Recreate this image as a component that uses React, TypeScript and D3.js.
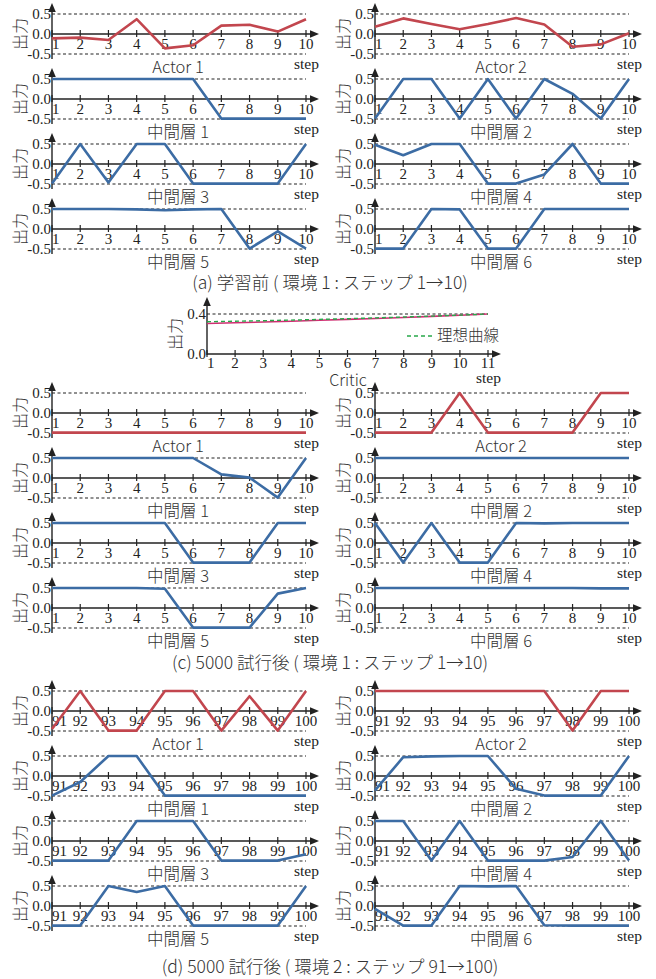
import React from "react";
import * as d3 from "d3";

// ---- data ----
const stepsEnv1 = [1, 2, 3, 4, 5, 6, 7, 8, 9, 10];
const stepsEnv2 = [91, 92, 93, 94, 95, 96, 97, 98, 99, 100];
const criticSteps = [1, 2, 3, 4, 5, 6, 7, 8, 9, 10, 11];
const outputTicks = [0.5, 0.0, -0.5];
const criticTicks = [0.4, 0.0];
const panelTitles = ["Actor 1", "Actor 2", "中間層 1", "中間層 2", "中間層 3", "中間層 4", "中間層 5", "中間層 6"];

// (a) before learning, environment 1
const preActor1 = [-0.11, -0.09, -0.15, 0.37, -0.36, -0.28, 0.21, 0.23, 0.06, 0.37];
const preActor2 = [0.18, 0.39, 0.25, 0.12, 0.25, 0.4, 0.24, -0.32, -0.26, 0.02];
const preMid1 = [0.5, 0.5, 0.5, 0.5, 0.5, 0.5, -0.49, -0.49, -0.49, -0.49];
const preMid2 = [-0.49, 0.5, 0.5, -0.49, 0.5, -0.49, 0.5, 0.13, -0.49, 0.5];
const preMid3 = [-0.49, 0.5, -0.46, 0.5, 0.5, -0.49, -0.49, -0.49, -0.49, 0.5];
const preMid4 = [0.48, 0.22, 0.5, 0.5, -0.49, -0.49, -0.26, 0.5, -0.49, -0.49];
const preMid5 = [0.5, 0.5, 0.5, 0.49, 0.47, 0.49, 0.5, -0.49, -0.06, -0.49];
const preMid6 = [-0.49, -0.49, 0.5, 0.49, -0.49, -0.49, 0.5, 0.5, 0.5, 0.5];

// critic output and ideal curve
const criticOutput = [0.305, 0.312, 0.32, 0.328, 0.337, 0.346, 0.355, 0.365, 0.376, 0.388, 0.4];
const criticIdeal = [0.323, 0.328, 0.333, 0.339, 0.346, 0.353, 0.361, 0.37, 0.379, 0.389, 0.4];

// (c) after 5000 trials, environment 1
const c5kActor1 = [-0.49, -0.49, -0.49, -0.49, -0.49, -0.49, -0.49, -0.49, -0.49, -0.49];
const c5kActor2 = [-0.49, -0.49, -0.49, 0.5, -0.49, -0.49, -0.49, -0.49, 0.5, 0.5];
const c5kMid1 = [0.5, 0.5, 0.5, 0.5, 0.5, 0.5, 0.09, 0.01, -0.49, 0.5];
const c5kMid2 = [0.5, 0.5, 0.5, 0.5, 0.5, 0.5, 0.5, 0.5, 0.5, 0.5];
const c5kMid3 = [0.5, 0.5, 0.5, 0.5, 0.5, -0.49, -0.49, -0.49, 0.5, 0.5];
const c5kMid4 = [0.5, -0.49, 0.5, -0.49, -0.49, 0.5, 0.49, 0.5, 0.5, 0.5];
const c5kMid5 = [0.5, 0.5, 0.5, 0.5, 0.48, -0.49, -0.49, -0.49, 0.36, 0.5];
const c5kMid6 = [0.5, 0.5, 0.5, 0.5, 0.5, 0.5, 0.5, 0.5, 0.49, 0.49];

// (d) after 5000 trials, environment 2
const d5kActor1 = [-0.45, 0.5, -0.49, -0.49, 0.5, 0.5, -0.49, 0.37, -0.49, 0.5];
const d5kActor2 = [0.5, 0.5, 0.5, 0.5, 0.5, 0.5, 0.5, -0.49, 0.5, 0.5];
const d5kMid1 = [-0.49, -0.15, 0.5, 0.5, -0.49, -0.49, -0.49, -0.49, -0.49, -0.49];
const d5kMid2 = [-0.36, 0.47, 0.49, 0.5, 0.5, -0.32, -0.49, -0.49, -0.49, 0.5];
const d5kMid3 = [-0.49, -0.49, -0.49, 0.5, 0.5, 0.5, -0.49, -0.49, -0.49, -0.33];
const d5kMid4 = [0.5, 0.5, -0.49, 0.5, -0.49, -0.49, -0.49, -0.4, 0.5, -0.49];
const d5kMid5 = [-0.49, -0.49, 0.5, 0.35, 0.5, -0.49, -0.49, -0.49, -0.49, 0.5];
const d5kMid6 = [-0.07, -0.49, -0.49, 0.5, 0.49, 0.5, -0.48, -0.49, -0.49, -0.49];

const captions = [
  "(a) 学習前 ( 環境 1 : ステップ 1→10)",
  "(c) 5000 試行後 ( 環境 1 : ステップ 1→10)",
  "(d) 5000 試行後 ( 環境 2 : ステップ 91→100)",
];

// ---- styling ----
const RED = "#c2464e";
const BLUE = "#3c6ca4";
const PINK = "#cf2f72";
const GREEN = "#27a84a";
const INK = "#222";
const serifStyle = { fontFamily: '"Liberation Serif", "Times New Roman", serif' };
const sansStyle = { fontFamily: '"Noto Sans CJK JP", "Noto Sans", sans-serif', fontWeight: 300 };

const COL_AXIS = [52, 375];
const SPAN = 254;

type PanelProps = { ax: number; y0: number; steps: number[]; values: number[]; color: string; title: string };

function Panel({ ax, y0, steps, values, color, title }: PanelProps) {
  const x = d3.scaleLinear().domain([steps[0], steps[steps.length - 1]]).range([ax, ax + SPAN]);
  const y = d3.scaleLinear().domain([-0.5, 0.5]).range([y0 + 20, y0 - 20]);
  const path = d3
    .line<number>()
    .x((_, i) => x(steps[i]))
    .y((d) => y(d))(values) as string;
  const xTip = ax + 267;
  const yTip = y0 - 31;
  return (
    <g>
      {[0.5, -0.5].map((v) => (
        <line key={v} x1={ax} x2={ax + SPAN} y1={y(v)} y2={y(v)} stroke={INK} strokeWidth={1} strokeDasharray="3,2.5" />
      ))}
      {/* axes */}
      <line x1={ax} x2={xTip - 6} y1={y0} y2={y0} stroke={INK} strokeWidth={1.4} />
      <polygon points={`${xTip},${y0} ${xTip - 9},${y0 - 3.8} ${xTip - 9},${y0 + 3.8}`} fill={INK} />
      <line x1={ax} x2={ax} y1={y0 + 25} y2={yTip + 6} stroke={INK} strokeWidth={1.4} />
      <polygon points={`${ax},${yTip} ${ax - 3.8},${yTip + 9} ${ax + 3.8},${yTip + 9}`} fill={INK} />
      {steps.map((s) => (
        <line key={s} x1={x(s)} x2={x(s)} y1={y0 - 4} y2={y0 + 3} stroke={INK} strokeWidth={1.2} />
      ))}
      {steps.map((s, i) => (
        <text
          key={"t" + s}
          x={x(s)}
          y={y0 + 14.5}
          style={serifStyle}
          fontSize={15}
          fill={INK}
          textAnchor={i === 0 ? "start" : "middle"}
        >
          {s}
        </text>
      ))}
      {outputTicks.map((v) => (
        <text key={"y" + v} x={ax - 1} y={y(v) + 5} style={serifStyle} fontSize={15} fill={INK} textAnchor="end">
          {v.toFixed(1)}
        </text>
      ))}
      <text
        transform={`translate(${ax - 26},${y0}) rotate(-90)`}
        textAnchor="middle"
        style={sansStyle}
        fontSize={16}
        fill="#333"
      >
        出力
      </text>
      <path d={path} fill="none" stroke={color} strokeWidth={2.6} strokeLinejoin="round" />
      <text x={ax + 126} y={y0 + 38.5} textAnchor="middle" style={sansStyle} fontSize={16.5} fill="#333">
        {title}
      </text>
      <text x={ax + 267} y={y0 + 35} textAnchor="end" style={serifStyle} fontSize={15.5} fill={INK}>
        step
      </text>
    </g>
  );
}

function CriticPanel() {
  const ax = 207;
  const y0 = 354;
  const x = d3.scaleLinear().domain([1, 11]).range([ax, 488]);
  const y = d3.scaleLinear().domain([0, 0.4]).range([y0, 314]);
  const line = d3
    .line<number>()
    .x((_, i) => x(criticSteps[i]))
    .y((d) => y(d));
  const xTip = 501;
  const yTip = 297;
  return (
    <g>
      <line x1={ax} x2={488} y1={y(0.4)} y2={y(0.4)} stroke={INK} strokeWidth={1} strokeDasharray="3,2.5" />
      <line x1={ax} x2={xTip - 6} y1={y0} y2={y0} stroke={INK} strokeWidth={1.4} />
      <polygon points={`${xTip},${y0} ${xTip - 9},${y0 - 3.8} ${xTip - 9},${y0 + 3.8}`} fill={INK} />
      <line x1={ax} x2={ax} y1={y0 + 1} y2={yTip + 6} stroke={INK} strokeWidth={1.4} />
      <polygon points={`${ax},${yTip} ${ax - 3.8},${yTip + 9} ${ax + 3.8},${yTip + 9}`} fill={INK} />
      {criticSteps.map((s) => (
        <line key={s} x1={x(s)} x2={x(s)} y1={y0 - 4} y2={y0 + 3} stroke={INK} strokeWidth={1.2} />
      ))}
      {criticSteps.map((s, i) => (
        <text
          key={"t" + s}
          x={x(s)}
          y={y0 + 14}
          style={serifStyle}
          fontSize={15}
          fill={INK}
          textAnchor={i === 0 ? "start" : "middle"}
        >
          {s}
        </text>
      ))}
      {criticTicks.map((v) => (
        <text key={"y" + v} x={ax - 1} y={y(v) + 5} style={serifStyle} fontSize={15} fill={INK} textAnchor="end">
          {v.toFixed(1)}
        </text>
      ))}
      <text
        transform={`translate(${ax - 26},${334}) rotate(-90)`}
        textAnchor="middle"
        style={sansStyle}
        fontSize={16}
        fill="#333"
      >
        出力
      </text>
      <path d={line(criticOutput) as string} fill="none" stroke={PINK} strokeWidth={1.6} />
      <path d={line(criticIdeal) as string} fill="none" stroke={GREEN} strokeWidth={1.4} strokeDasharray="4,3" />
      <line x1={407} x2={432} y1={336} y2={336} stroke={GREEN} strokeWidth={1.4} strokeDasharray="4,3" />
      <text x={437} y={341} style={sansStyle} fontSize={15.5} fill="#333">
        理想曲線
      </text>
      <text x={348} y={385.5} textAnchor="middle" style={sansStyle} fontSize={16} fill="#333">
        Critic
      </text>
      <text x={501} y={382.5} textAnchor="end" style={serifStyle} fontSize={15.5} fill={INK}>
        step
      </text>
    </g>
  );
}

type Section = { rows: number[]; steps: number[]; series: number[][]; caption: string; captionY: number };

const sections: Section[] = [
  {
    rows: [34, 99, 164, 229],
    steps: stepsEnv1,
    series: [preActor1, preActor2, preMid1, preMid2, preMid3, preMid4, preMid5, preMid6],
    caption: captions[0],
    captionY: 289,
  },
  {
    rows: [413, 478, 543, 608],
    steps: stepsEnv1,
    series: [c5kActor1, c5kActor2, c5kMid1, c5kMid2, c5kMid3, c5kMid4, c5kMid5, c5kMid6],
    caption: captions[1],
    captionY: 669,
  },
  {
    rows: [711, 776, 841, 906],
    steps: stepsEnv2,
    series: [d5kActor1, d5kActor2, d5kMid1, d5kMid2, d5kMid3, d5kMid4, d5kMid5, d5kMid6],
    caption: captions[2],
    captionY: 973,
  },
];

export default function App() {
  return (
    <svg
      width={656}
      height={979}
      viewBox="0 0 656 979"
      style={{ position: "absolute", left: 0, top: 0, background: "#fff" }}
    >
      <rect width={656} height={979} fill="#fff" />
      {sections.map((sec, si) => (
        <g key={si}>
          {sec.series.map((vals, k) => (
            <Panel
              key={k}
              ax={COL_AXIS[k % 2]}
              y0={sec.rows[Math.floor(k / 2)]}
              steps={sec.steps}
              values={vals}
              color={k < 2 ? RED : BLUE}
              title={panelTitles[k]}
            />
          ))}
          <text x={330} y={sec.captionY} textAnchor="middle" style={sansStyle} fontSize={17.5} fill="#333">
            {sec.caption}
          </text>
        </g>
      ))}
      <CriticPanel />
    </svg>
  );
}
